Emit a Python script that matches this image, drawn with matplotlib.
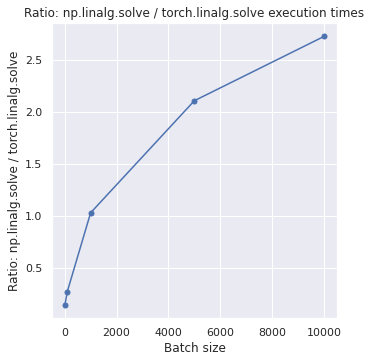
import matplotlib
matplotlib.use('Agg')
import matplotlib.pyplot as plt
import seaborn as sns

batch_sizes = [10, 100, 1000, 5000, 10000]
ratios = [0.145, 0.27, 1.03, 2.11, 2.73]

sns.set_theme(style='darkgrid')

fig = plt.figure(figsize=(371 / 72, 364 / 72), dpi=72)
ax = fig.add_axes([52 / 371, 46 / 364, 285 / 371, 295 / 364])
ax.plot(batch_sizes, ratios, marker='o', markersize=5, color='#4c72b0', linewidth=1.5)
ax.set_xlabel('Batch size')
ax.set_ylabel('Ratio: np.linalg.solve / torch.linalg.solve')
ax.set_title('Ratio: np.linalg.solve / torch.linalg.solve execution times')
fig.savefig('out.png', dpi=72)
